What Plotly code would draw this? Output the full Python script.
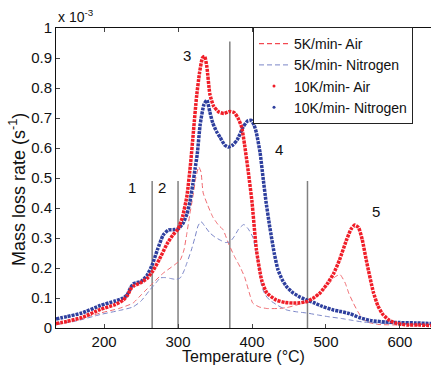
import plotly.graph_objects as go

# ---- data (mass loss rate in units of 1e-3 s^-1) ----
air10_T = [135, 150, 170, 195, 215, 226, 232, 236, 240, 249, 258, 266, 275, 285, 293, 300, 306, 312, 317, 321,
           325, 329, 333, 336, 339, 343, 348, 355, 362, 370, 376, 381, 386, 390, 395, 400, 406, 413, 420, 433,
           445, 456, 465, 474, 483, 492, 501, 510, 518, 528, 534, 539, 544, 549, 555, 564, 570, 577, 586, 596,
           610, 625, 642]
air10_v = [0.015, 0.022, 0.035, 0.062, 0.078, 0.093, 0.11, 0.13, 0.14, 0.15, 0.165, 0.19, 0.23, 0.28, 0.31, 0.33,
           0.37, 0.44, 0.55, 0.66, 0.77, 0.85, 0.90, 0.905, 0.87, 0.78, 0.74, 0.72, 0.715, 0.722, 0.718, 0.70,
           0.67, 0.61, 0.52, 0.42, 0.26, 0.16, 0.117, 0.093, 0.085, 0.083, 0.084, 0.088, 0.10, 0.117, 0.145, 0.18,
           0.225, 0.295, 0.33, 0.343, 0.335, 0.295, 0.22, 0.12, 0.075, 0.045, 0.025, 0.015, 0.01, 0.01, 0.008]

n2_10_T = [135, 150, 170, 195, 215, 226, 231, 236, 240, 250, 258, 265, 272, 280, 287, 295, 300, 307, 312, 316,
           320, 323, 326, 330, 335, 339, 343, 347, 352, 357, 363, 368, 374, 380, 388, 394, 399, 403, 406, 411,
           415, 419, 424, 430, 435, 441, 447, 455, 465, 474, 483, 495, 510, 520, 532, 545, 560, 580, 600, 620, 642]
n2_10_v = [0.03, 0.038, 0.05, 0.075, 0.09, 0.10, 0.11, 0.135, 0.148, 0.155, 0.175, 0.21, 0.26, 0.31, 0.327, 0.328,
           0.33, 0.35, 0.38, 0.42, 0.48, 0.53, 0.58, 0.68, 0.745, 0.76, 0.72, 0.683, 0.655, 0.635, 0.61, 0.603,
           0.61, 0.627, 0.67, 0.69, 0.692, 0.675, 0.65, 0.583, 0.50, 0.42, 0.337, 0.25, 0.195, 0.16, 0.137, 0.118,
           0.103, 0.093, 0.085, 0.072, 0.06, 0.055, 0.048, 0.035, 0.025, 0.02, 0.018, 0.017, 0.015]

air5_T = [135, 160, 195, 220, 239, 250, 258, 266, 280, 295, 303, 308, 312, 316, 320, 324, 328, 331, 334, 340,
          347, 354, 361, 368, 376, 384, 390, 396, 401, 410, 420, 435, 447, 465, 480, 492, 505, 512, 519, 526,
          531, 537, 543, 549, 556, 570, 600, 642]
air5_v = [0.01, 0.025, 0.05, 0.065, 0.083, 0.11, 0.13, 0.15, 0.183, 0.21, 0.227, 0.26, 0.317, 0.38, 0.437, 0.50,
          0.537, 0.52, 0.45, 0.41, 0.37, 0.345, 0.327, 0.283, 0.24, 0.203, 0.17, 0.12, 0.083, 0.07, 0.065, 0.065,
          0.068, 0.08, 0.095, 0.115, 0.15, 0.17, 0.178, 0.15, 0.115, 0.083, 0.055, 0.033, 0.02, 0.012, 0.01, 0.008]

n2_5_T = [135, 160, 195, 220, 239, 250, 262, 270, 276, 283, 290, 297, 303, 308, 312, 318, 323, 327, 331, 336,
          343, 350, 357, 364, 370, 376, 382, 389, 395, 401, 405, 408, 411, 413, 418, 424, 435, 447, 460, 474,
          490, 505, 520, 532, 550, 580, 642]
n2_5_v = [0.015, 0.022, 0.045, 0.058, 0.07, 0.09, 0.127, 0.15, 0.167, 0.168, 0.165, 0.162, 0.167, 0.19, 0.217,
          0.26, 0.303, 0.34, 0.355, 0.34, 0.317, 0.303, 0.293, 0.285, 0.287, 0.305, 0.33, 0.345, 0.33, 0.303, 0.26,
          0.227, 0.18, 0.14, 0.11, 0.093, 0.075, 0.06, 0.054, 0.05, 0.043, 0.037, 0.032, 0.027, 0.02, 0.015, 0.012]

stage_T = [265, 300, 370, 475]
stage_top = [0.49, 0.49, 0.955, 0.49]
label_text = ["1", "2", "3", "4", "5"]
label_T = [238, 278, 312, 437, 568]
label_v = [0.468, 0.468, 0.91, 0.595, 0.39]

y_ticks = [0, 0.1, 0.2, 0.3, 0.4, 0.5, 0.6, 0.7, 0.8, 0.9, 1.0]
y_ticktext = ["0", "0.1", "0.2", "0.3", "0.4", "0.5", "0.6", "0.7", "0.8", "0.9", "1"]
x_ticks = [200, 300, 400, 500, 600]

RED = "#f01e28"
BLUE = "#2e3f9e"
RED_L = "#f06a70"
BLUE_L = "#7b86c8"
FONT = "Liberation Sans, Arial, sans-serif"

fig = go.Figure()

fig.add_trace(go.Scatter(x=air5_T, y=air5_v, mode="lines", showlegend=False,
                         line=dict(color=RED_L, width=1, dash="5px,3px", shape="spline", smoothing=0.5)))
fig.add_trace(go.Scatter(x=n2_5_T, y=n2_5_v, mode="lines", showlegend=False,
                         line=dict(color=BLUE_L, width=1, dash="5px,3px", shape="spline", smoothing=0.5)))
fig.add_trace(go.Scatter(x=n2_10_T, y=n2_10_v, mode="lines", showlegend=False,
                         line=dict(color=BLUE, width=3.5, dash="3px,1px", shape="spline", smoothing=0.5)))
fig.add_trace(go.Scatter(x=air10_T, y=air10_v, mode="lines", showlegend=False,
                         line=dict(color=RED, width=3.5, dash="3px,1px", shape="spline", smoothing=0.5)))

# legend entries
fig.add_trace(go.Scatter(x=[None], y=[None], mode="lines", name="5K/min- Air",
                         line=dict(color=RED, width=1, dash="5px,3px")))
fig.add_trace(go.Scatter(x=[None], y=[None], mode="lines", name="5K/min- Nitrogen",
                         line=dict(color=BLUE_L, width=1, dash="5px,3px")))
fig.add_trace(go.Scatter(x=[None], y=[None], mode="markers", name="10K/min- Air",
                         marker=dict(color=RED, size=3)))
fig.add_trace(go.Scatter(x=[None], y=[None], mode="markers", name="10K/min- Nitrogen",
                         marker=dict(color=BLUE, size=3)))

for t, top in zip(stage_T, stage_top):
    fig.add_shape(type="line", xref="x", yref="y", x0=t, x1=t, y0=0, y1=top,
                  line=dict(color="#808080", width=1.5), layer="below")

for txt, t, v in zip(label_text, label_T, label_v):
    fig.add_annotation(x=t, y=v, text=txt, showarrow=False, font=dict(size=15, color="#111", family=FONT))

fig.add_annotation(xref="paper", yref="paper", x=0, y=1, xanchor="left", yanchor="bottom", yshift=1,
                   text="x 10<sup>-3</sup>", showarrow=False, font=dict(size=14, color="#111", family=FONT))

# y-axis title (placed as rotated text to match the reference position)
fig.add_annotation(xref="paper", yref="paper", x=(17 - 56) / 375, y=(328 - 190) / 300,
                   xanchor="center", yanchor="middle", textangle=-90, showarrow=False,
                   text="Mass loss rate (s<sup>-1</sup>)", font=dict(size=18, color="#111", family=FONT))

fig.update_layout(
    width=431, height=365,
    margin=dict(l=56, r=0, t=28, b=37, autoexpand=False),
    paper_bgcolor="white", plot_bgcolor="white",
    font=dict(family=FONT, color="#111", size=14),
    legend=dict(x=(253 - 56) / 375, y=1.003, xanchor="left", yanchor="top",
                bgcolor="white", bordercolor="#222", borderwidth=1,
                font=dict(size=14, family=FONT), tracegroupgap=0),
    xaxis=dict(range=[135, 642], tickvals=x_ticks, ticks="inside", ticklen=4, showgrid=False,
               zeroline=False, showline=True, linecolor="#111", linewidth=1, mirror="ticks",
               automargin=False, tickfont=dict(size=15),
               title=dict(text="Temperature (°C)", font=dict(size=16), standoff=0)),
    yaxis=dict(range=[0, 1], tickvals=y_ticks, ticktext=y_ticktext, ticks="inside", ticklen=4,
               showgrid=False, zeroline=False, showline=True, linecolor="#111", linewidth=1,
               automargin=False, tickfont=dict(size=15)),
)

fig.write_html("out.html", config={"displayModeBar": False},
               post_script="document.body.style.margin='0';document.body.style.overflow='hidden';")
